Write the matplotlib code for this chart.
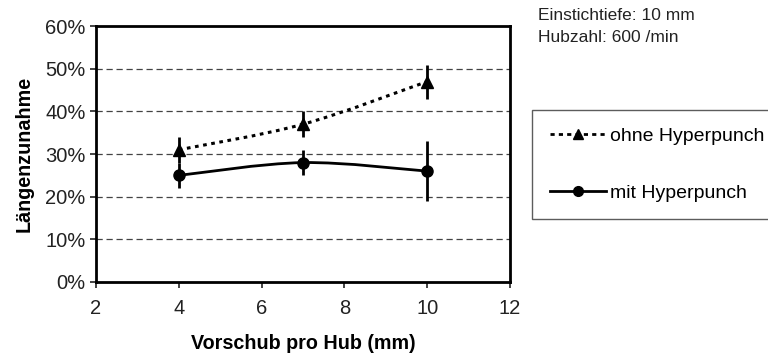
import numpy as np
import matplotlib.pyplot as plt
from matplotlib.path import Path
from matplotlib.patches import PathPatch
from matplotlib.lines import Line2D
from matplotlib.ticker import PercentFormatter

plt.rcParams['font.family'] = ['Liberation Sans', 'DejaVu Sans']

# data (percent)
vorschub = [4, 7, 10]
ohne = [31, 37, 47]
ohne_lo = [28, 34, 43]
ohne_hi = [34, 40, 51]
mit = [25, 28, 26]
mit_lo = [22, 25, 19]
mit_hi = [28, 31, 33]


def smooth_path(x, y):
    # Excel-like smoothed line: Catmull-Rom as cubic Bezier
    p = np.column_stack([x, y]).astype(float)
    verts = [p[0]]
    codes = [Path.MOVETO]
    n = len(p)
    for i in range(n - 1):
        p0 = p[i - 1] if i > 0 else p[i]
        p3 = p[i + 2] if i + 2 < n else p[i + 1]
        c1 = p[i] + (p[i + 1] - p0) / 6
        c2 = p[i + 1] - (p3 - p[i]) / 6
        verts += [c1, c2, p[i + 1]]
        codes += [Path.CURVE4] * 3
    return Path(verts, codes)


fig = plt.figure(figsize=(7.68, 3.58), dpi=100)
ax = fig.add_axes([0.125, 0.2123, 0.539, 0.7147])

ax.add_patch(PathPatch(smooth_path(vorschub, ohne), fill=False, lw=2.2,
                       ls=(0, (1.2, 1.5)), ec='black'))
ax.add_patch(PathPatch(smooth_path(vorschub, mit), fill=False, lw=2, ec='black'))

ax.vlines(vorschub, ohne_lo, ohne_hi, color='black', lw=2)
ax.vlines(vorschub, mit_lo, mit_hi, color='black', lw=2)
ax.plot(vorschub, ohne, ls='none', marker='^', ms=8, color='black')
ax.plot(vorschub, mit, ls='none', marker='o', ms=8, color='black')

ax.set_xlim(2, 12)
ax.set_ylim(0, 60)
ax.set_xticks([2, 4, 6, 8, 10, 12])
ax.set_yticks(range(0, 61, 10))
ax.yaxis.set_major_formatter(PercentFormatter(decimals=0))
ax.tick_params(labelsize=14.5, direction='out', length=4, width=1.2, colors='#222222')
ax.tick_params(axis='x', pad=8)
for y in range(10, 60, 10):
    ax.axhline(y, color='#444444', lw=0.9, ls=(0, (5, 3)), zorder=0)
for s in ax.spines.values():
    s.set_linewidth(2)

ax.set_xlabel('Vorschub pro Hub (mm)', fontsize=14.2, fontweight='bold', labelpad=12)
ax.set_ylabel('Längenzunahme', fontsize=14.2, fontweight='bold', labelpad=8)

fig.text(538 / 768, 1 - 15 / 358, 'Einstichtiefe: 10 mm', fontsize=12.5, va='center',
         color='#222222')
fig.text(538 / 768, 1 - 37 / 358, 'Hubzahl: 600 /min', fontsize=12.5, va='center',
         color='#222222')

handles = [Line2D([], [], color='black', lw=2, ls=(0, (1.5, 1.5)), marker='^', ms=7),
           Line2D([], [], color='black', lw=2, marker='o', ms=7)]
leg = fig.legend(handles, ['ohne Hyperpunch', 'mit Hyperpunch'],
                 loc='upper left', bbox_to_anchor=(532 / 768, 1 - 110 / 358),
                 fontsize=14, frameon=True, fancybox=False, borderpad=0.9,
                 labelspacing=2.0, handlelength=2.9, handletextpad=0.2,
                 borderaxespad=0)
leg.get_frame().set_edgecolor('#333333')
leg.get_frame().set_linewidth(1)

fig.savefig('out.png', dpi=100)
